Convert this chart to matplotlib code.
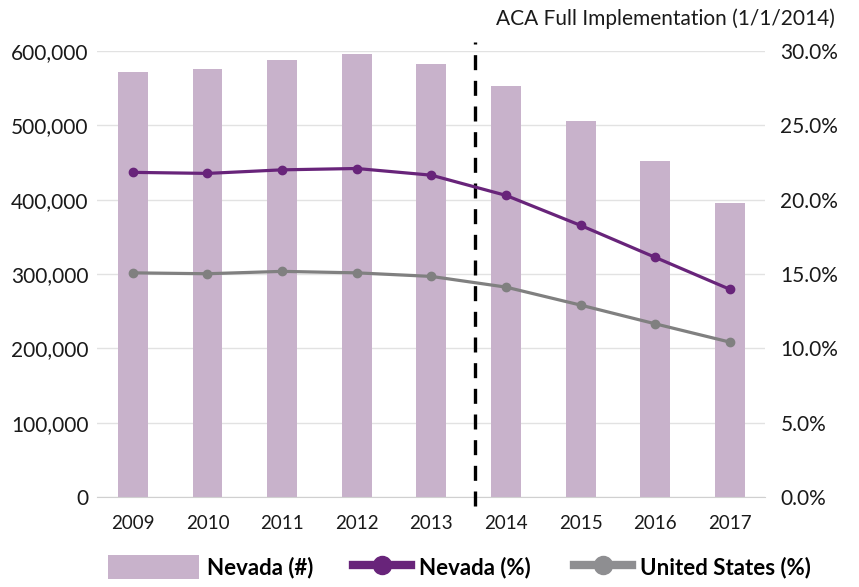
import matplotlib.pyplot as plt
from matplotlib.ticker import FuncFormatter
from matplotlib.lines import Line2D
from matplotlib.patches import Patch

plt.rcParams['font.family'] = ['Lato', 'DejaVu Sans']

years = ['2009', '2010', '2011', '2012', '2013', '2014', '2015', '2016', '2017']
nevada_count = [572000, 575500, 588500, 596000, 583000, 553000, 505500, 452000, 396000]
nevada_pct = [21.84, 21.77, 22.01, 22.10, 21.65, 20.29, 18.27, 16.12, 13.97]
us_pct = [15.08, 15.02, 15.18, 15.08, 14.84, 14.12, 12.91, 11.65, 10.42]

bar_color = '#c8b2cb'
nv_color = '#68247a'
us_color = '#808080'
txt_color = '#1a1a1a'

fig = plt.figure(figsize=(8.59, 5.87), dpi=100)
ax = fig.add_axes([0.1129, 0.1533, 0.7777, 0.7597])
ax2 = ax.twinx()

x = list(range(len(years)))
ax.bar(x, nevada_count, width=0.4, color=bar_color, zorder=2)
ax.set_ylim(0, 600000)
ax.set_yticks(range(0, 600001, 100000))
ax.yaxis.set_major_formatter(FuncFormatter(lambda v, p: f'{int(v):,}'))
ax.set_xlim(-0.48, 8.47)
ax.set_xticks(x)
ax.set_xticklabels(years)
ax.grid(axis='y', color='#e2e2e2', lw=1, zorder=0)
ax.set_axisbelow(True)

ax2.plot(x, nevada_pct, color=nv_color, lw=2.3, marker='o', ms=6, zorder=3)
ax2.plot(x, us_pct, color=us_color, lw=2.3, marker='o', ms=6, zorder=3)
ax2.set_ylim(0, 30)
ax2.set_yticks(range(0, 31, 5))
ax2.yaxis.set_major_formatter(FuncFormatter(lambda v, p: f'{v:.1f}%'))

# ACA line between 2013 and 2014
ax.axvline(4.58, ymin=-0.02, ymax=1.02, color='black', lw=2.4,
           ls=(0, (4.5, 3.2)), clip_on=False, zorder=5)
fig.text(0.972, 0.968, 'ACA Full Implementation (1/1/2014)', ha='right',
         va='center', fontsize=15, color=txt_color)

for a in (ax, ax2):
    for s in a.spines.values():
        s.set_visible(False)
ax.spines['bottom'].set_visible(True)
ax.spines['bottom'].set_color('#d0d0d0')
ax.tick_params(axis='y', length=0, pad=6, labelsize=15, labelcolor=txt_color)
ax.tick_params(axis='x', length=0, pad=13, labelsize=13.5, labelcolor=txt_color)
ax2.tick_params(axis='y', length=0, pad=11, labelsize=15, labelcolor=txt_color)

# legend: three separate entries so each handle keeps its own width
entries = [
    (Patch(facecolor=bar_color, edgecolor='none'), 'Nevada (#)', 4.1, 108),
    (Line2D([], [], color=nv_color, lw=6, marker='o', ms=13), 'Nevada (%)', 2.6, 353),
    (Line2D([], [], color='#8e8e91', lw=6, marker='o', ms=13), 'United States (%)', 2.6, 574),
]
for h, lab, hl, x0 in entries:
    fig.legend([h], [lab], loc='center left', bbox_to_anchor=(x0 / 859, 0.034),
               frameon=False, handlelength=hl, handleheight=1.27,
               handletextpad=0.35, borderpad=0, borderaxespad=0,
               prop={'weight': 'bold', 'size': 16})

fig.savefig('out.png', dpi=100)
